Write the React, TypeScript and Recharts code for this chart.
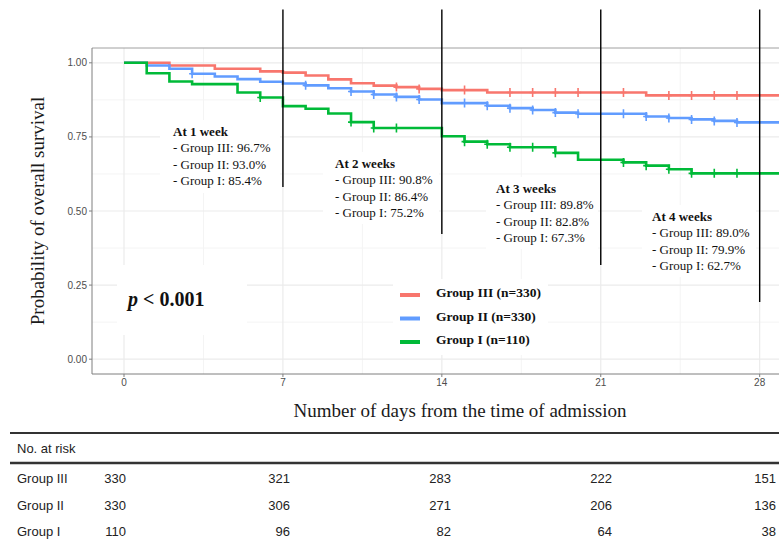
import React from "react";
import { ComposedChart, Line, XAxis, YAxis, CartesianGrid, ReferenceLine } from "recharts";

// ---- data ----
const xTicks = [0, 7, 14, 21, 28];
const yTicks = [0, 0.25, 0.5, 0.75, 1];
const xMinor = [3.5, 10.5, 17.5, 24.5];
const yMinor = [0.125, 0.375, 0.625, 0.875];

// Kaplan-Meier step change points [day, survival]
const groupIIISteps = [
  [0, 1.0], [2, 0.991], [4, 0.98], [6, 0.971], [7, 0.967], [8, 0.957], [9, 0.944],
  [10, 0.931], [11, 0.923], [12, 0.918], [13, 0.912], [14, 0.908], [16, 0.9],
  [23, 0.89], [29.6, 0.89],
];
const groupIISteps = [
  [0, 1.0], [1, 0.991], [2, 0.98], [3, 0.963], [4, 0.954], [5, 0.945], [6, 0.936],
  [7, 0.93], [8, 0.924], [9, 0.914], [10, 0.903], [11, 0.893], [12, 0.885],
  [13, 0.876], [14, 0.864], [16, 0.855], [17, 0.847], [18, 0.841], [19, 0.832],
  [20, 0.828], [23, 0.819], [24, 0.814], [25, 0.809], [26, 0.804], [27, 0.799],
  [29.6, 0.799],
];
const groupISteps = [
  [0, 1.0], [1, 0.965], [2, 0.937], [3, 0.928], [5, 0.9], [6, 0.883], [7, 0.854],
  [8, 0.845], [9, 0.829], [10, 0.8], [11, 0.78], [14, 0.752], [15, 0.734],
  [16, 0.725], [17, 0.715], [19, 0.696], [20, 0.673], [22, 0.664], [23, 0.653],
  [24, 0.641], [25, 0.627], [29.6, 0.627],
];

// censoring times
const groupIIICensor = [12, 13, 15, 17, 18, 19, 20, 22, 24, 25, 26, 27];
const groupIICensor = [3, 8, 10, 11, 12, 13, 15, 16, 17, 18, 19, 20, 22, 23, 24, 25, 26, 27];
const groupICensor = [6, 10, 11, 12, 15, 16, 17, 18, 19, 22, 23, 24, 25, 26, 27];

const weekDays = [7, 14, 21, 28];
const weekLabels = ["At 1 week", "At 2 weeks", "At 3 weeks", "At 4 weeks"];
const weekIII = ["96.7%", "90.8%", "89.8%", "89.0%"];
const weekII = ["93.0%", "86.4%", "82.8%", "79.9%"];
const weekI = ["85.4%", "75.2%", "67.3%", "62.7%"];

const groupNames = ["Group III", "Group II", "Group I"];
const groupNs = [330, 330, 110];
const riskIII = [330, 321, 283, 222, 151];
const riskII = [330, 306, 271, 206, 136];
const riskI = [110, 96, 82, 64, 38];

// ---- styling / layout ----
const COLORS = ["#F8766D", "#619CFF", "#00BA38"];
const SERIF = "'Liberation Serif', 'Times New Roman', serif";
const SANS = "'Liberation Sans', Arial, sans-serif";

const toRows = (steps: number[][]) => steps.map(([t, s]) => ({ t, s }));
const survAt = (steps: number[][], t: number) => {
  let v = steps[0][1];
  for (const [tt, s] of steps) if (tt <= t) v = s;
  return v;
};
const censorRows = (steps: number[][], times: number[]) =>
  times.map((t) => ({ t, s: survAt(steps, t) }));

const makeCensorDot = (color: string) => (props: any) => {
  const { cx, cy, index } = props;
  if (cx == null || cy == null) return <g key={index} />;
  return (
    <path
      key={index}
      d={`M${cx},${cy - 4.5}V${cy + 4.5}M${cx - 3},${cy}H${cx + 3}`}
      stroke={color}
      strokeWidth={1.6}
      fill="none"
    />
  );
};

const series = [
  { steps: groupIIISteps, censor: groupIIICensor },
  { steps: groupIISteps, censor: groupIICensor },
  { steps: groupISteps, censor: groupICensor },
];

// annotation layout (pixels)
const weekBoxes = [
  { x: 173, y: 133, box: [160, 120, 120, 73] },
  { x: 335, y: 165, box: [323, 152, 116, 72] },
  { x: 496, y: 190, box: [486, 177, 112, 72] },
  { x: 652, y: 218, box: [642, 205, 114, 72] },
];
const weekLineBottom = [0.581, 0.4224, 0.318, 0.193];
const riskColsRight = [126, 290, 451, 612, 776];
const riskRowsY = [480, 507, 533];

export default function App() {
  const riskRows = [riskIII, riskII, riskI];
  return (
    <div
      style={{
        position: "absolute",
        left: 0,
        top: 0,
        width: 779,
        height: 547,
        overflow: "hidden",
        background: "#fff",
      }}
    >
      <div style={{ position: "absolute", left: 0, top: 0 }}>
        <ComposedChart
          width={830}
          height={547}
          margin={{ top: 48, right: 34, bottom: 143, left: 0 }}
        >
          <CartesianGrid
            verticalValues={xMinor}
            horizontalValues={yMinor}
            stroke="#f4f4f4"
            strokeWidth={1}
          />
          <CartesianGrid
            verticalValues={xTicks}
            horizontalValues={yTicks}
            stroke="#ebebeb"
            strokeWidth={1.2}
          />
          <XAxis
            type="number"
            dataKey="t"
            domain={[-1.41, 29.6]}
            ticks={xTicks}
            allowDataOverflow
            height={30}
            tickSize={3}
            tickLine={{ stroke: "#7f7f7f" }}
            axisLine={{ stroke: "#7f7f7f" }}
            tick={{ fill: "#4d4d4d", fontSize: 10, fontFamily: SANS }}
            interval={0}
          />
          <YAxis
            type="number"
            dataKey="s"
            domain={[-0.05, 1.05]}
            ticks={yTicks}
            allowDataOverflow
            width={92}
            tickSize={3}
            tickLine={{ stroke: "#7f7f7f" }}
            axisLine={{ stroke: "#7f7f7f" }}
            tick={{ fill: "#4d4d4d", fontSize: 10, fontFamily: SANS }}
            tickFormatter={(v: number) => v.toFixed(2)}
            interval={0}
          />
          <ReferenceLine y={1.05} stroke="#a0a0a0" strokeWidth={1} ifOverflow="visible" />
          {series.map((g, i) => (
            <Line
              key={"l" + i}
              data={toRows(g.steps)}
              dataKey="s"
              type="stepAfter"
              stroke={COLORS[i]}
              strokeWidth={2.6}
              dot={false}
              activeDot={false}
              isAnimationActive={false}
            />
          ))}
          {series.map((g, i) => (
            <Line
              key={"c" + i}
              data={censorRows(g.steps, g.censor)}
              dataKey="s"
              stroke="none"
              dot={makeCensorDot(COLORS[i])}
              activeDot={false}
              isAnimationActive={false}
            />
          ))}
          {weekDays.map((d, i) => (
            <ReferenceLine
              key={"w" + i}
              segment={[
                { x: d, y: 1.18 },
                { x: d, y: weekLineBottom[i] },
              ]}
              stroke="#000"
              strokeWidth={1.4}
              ifOverflow="visible"
            />
          ))}
        </ComposedChart>
      </div>
      <svg
        width={779}
        height={547}
        style={{ position: "absolute", left: 0, top: 0, pointerEvents: "none" }}
      >
        {/* week annotation boxes */}
        {weekBoxes.map((b, i) => (
          <g key={"wb" + i}>
            <rect x={b.box[0]} y={b.box[1]} width={b.box[2]} height={b.box[3]} fill="#fff" />
            <text x={b.x} y={b.y} fontFamily={SERIF} fontWeight="bold" fontSize={13} dominantBaseline="middle" fill="#111">
              {weekLabels[i]}
            </text>
            <text x={b.x} y={b.y + 16.5} fontFamily={SERIF} fontSize={13} dominantBaseline="middle" fill="#111">
              {"- Group III: " + weekIII[i]}
            </text>
            <text x={b.x} y={b.y + 33} fontFamily={SERIF} fontSize={13} dominantBaseline="middle" fill="#111">
              {"- Group II: " + weekII[i]}
            </text>
            <text x={b.x} y={b.y + 49.5} fontFamily={SERIF} fontSize={13} dominantBaseline="middle" fill="#111">
              {"- Group I: " + weekI[i]}
            </text>
          </g>
        ))}
        {/* p value */}
        <rect x={117} y={265} width={130} height={70} fill="#fff" />
        <text x={128} y={301} fontFamily={SERIF} fontWeight="bold" fontSize={20} dominantBaseline="middle" fill="#111">
          <tspan fontStyle="italic">p</tspan>
          <tspan>{" < 0.001"}</tspan>
        </text>
        {/* legend */}
        <rect x={393} y={279} width={155} height={76} fill="#fff" />
        {groupNames.map((n, i) => (
          <g key={"lg" + i}>
            <line x1={400} x2={420} y1={295 + i * 23.5} y2={295 + i * 23.5} stroke={COLORS[i]} strokeWidth={4} />
            <text x={436} y={294 + i * 23.5} fontFamily={SERIF} fontWeight="bold" fontSize={13.5} dominantBaseline="middle" fill="#111">
              {`${n} (n=${groupNs[i]})`}
            </text>
          </g>
        ))}
        {/* axis titles */}
        <text x={40} y={211} transform="rotate(-90 40 211)" textAnchor="middle" dominantBaseline="middle" fontFamily={SERIF} fontSize={19} fill="#1a1a1a">
          Probability of overall survival
        </text>
        <text x={460} y={413} textAnchor="middle" dominantBaseline="middle" fontFamily={SERIF} fontSize={19} fill="#1a1a1a">
          Number of days from the time of admission
        </text>
        {/* risk table */}
        <line x1={10} x2={779} y1={433} y2={433} stroke="#333" strokeWidth={2} />
        <text x={17} y={450} fontFamily={SANS} fontSize={13} dominantBaseline="middle" fill="#222">
          No. at risk
        </text>
        <line x1={10} x2={779} y1={463} y2={463} stroke="#333" strokeWidth={2.5} />
        {riskRows.map((row, r) => (
          <g key={"rr" + r}>
            <text x={17} y={riskRowsY[r]} fontFamily={SANS} fontSize={13} dominantBaseline="middle" fill="#222">
              {groupNames[r]}
            </text>
            {row.map((v, c) => (
              <text key={c} x={riskColsRight[c]} y={riskRowsY[r]} textAnchor="end" fontFamily={SANS} fontSize={13} dominantBaseline="middle" fill="#222">
                {v}
              </text>
            ))}
          </g>
        ))}
      </svg>
    </div>
  );
}
